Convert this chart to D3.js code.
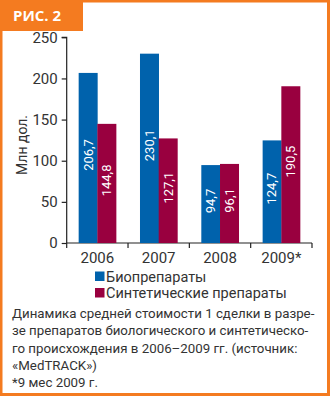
<!DOCTYPE html>
<html><head><meta charset="utf-8">
<script src="https://cdn.jsdelivr.net/npm/d3@7"></script>
<style>body{margin:0;background:#fff}svg{display:block}</style>
</head><body>
<script>
const categories = ["2006","2007","2008","2009*"];
const seriesNames = ["Биопрепараты","Синтетические препараты"];
const bio = [206.7,230.1,94.7,124.7];
const synth = [144.8,127.1,96.1,190.5];
const valueLabels = [["206,7","230,1","94,7","124,7"],["144,8","127,1","96,1","190,5"]];
const yTicks = [0,50,100,150,200,250];
const captionLines = ["Динамика средней стоимости 1 сделки в разре-","зе препаратов биологического и синтетическо-","го происхождения в 2006–2009 гг. (источник:","«MedTRACK»)","*9 мес 2009 г."];

const W=330,H=396;
const orange="#F47B20", blue="#0062AC", red="#99003F", txt="#333";
const font="Roboto, 'Open Sans', sans-serif";
const svg=d3.select("body").append("svg").attr("width",W).attr("height",H);
svg.append("rect").attr("width",W).attr("height",H).attr("fill","#fff");
// border
svg.append("rect").attr("x",1).attr("y",1).attr("width",327.5).attr("height",393.5).attr("fill","none").attr("stroke",orange).attr("stroke-width",3);
svg.append("rect").attr("x",0).attr("y",0).attr("width",83).attr("height",31).attr("fill",orange);
svg.append("text").attr("x",13).attr("y",21).attr("fill","#fff").attr("font-family","'Open Sans', sans-serif").attr("font-weight","bold").attr("font-size",15).text("РИС. 2");

const y=d3.scaleLinear().domain([0,250]).range([243,37.3]);
const x=d3.scaleBand().domain(categories).range([66.7,312]).paddingInner(0).paddingOuter(0);
const xs=d3.scaleBand().domain([0,1]).range([0,37.4]);
const g=svg.append("g");
const yAxis=g.append("g").attr("transform","translate(66.7,0)").call(d3.axisLeft(y).tickValues(yTicks).tickSize(5).tickPadding(4));
const xAxis=g.append("g").attr("transform","translate(0,243)").call(d3.axisBottom(x).tickSize(0).tickPadding(9));
// boundary ticks on x axis
const bounds=[66.7,...categories.slice(1).map(c=>x(c)),312];
g.selectAll(".bt").data(bounds).enter().append("line").attr("x1",d=>d).attr("x2",d=>d).attr("y1",243).attr("y2",248).attr("stroke","#222").attr("stroke-width",1.2);
[yAxis,xAxis].forEach(a=>{a.selectAll("path").attr("stroke","#222").attr("stroke-width",1.2);a.selectAll("line").attr("stroke","#222").attr("stroke-width",1.2);a.selectAll("text").attr("font-family",font).attr("font-size",15).attr("fill",txt);});
xAxis.select("path").attr("d","M66.7,0H312");
yAxis.select("path").attr("d","M-5,37.3H0V243");

const series=[bio,synth], colors=[blue,red];
series.forEach((vals,si)=>{
  const off=(x.bandwidth()-37.4)/2;
  g.selectAll(".b"+si).data(vals).enter().append("rect")
   .attr("x",(d,i)=>x(categories[i])+off+xs(si)).attr("width",xs.bandwidth()+0.3)
   .attr("y",d=>y(d)).attr("height",d=>243-y(d)).attr("fill",colors[si]);
  g.selectAll(".l"+si).data(vals).enter().append("text")
   .attr("transform",(d,i)=>{const cx=x(categories[i])+off+xs(si)+xs.bandwidth()/2;const cy=(y(d)+243)/2-3;return `translate(${cx+4.5},${cy}) rotate(-90)`;})
   .attr("text-anchor","middle").attr("fill","#fff").attr("font-family",font).attr("font-size",13)
   .text((d,i)=>valueLabels[si][i]);
});
svg.append("text").attr("transform","translate(27,145) rotate(-90)").attr("text-anchor","middle").attr("font-family",font).attr("font-size",14).attr("fill",txt).text("Млн дол.");

// legend
seriesNames.forEach((n,i)=>{
  svg.append("rect").attr("x",95).attr("y",271.5+i*16.5).attr("width",9.5).attr("height",9.5).attr("fill",colors[i]);
  svg.append("text").attr("x",106).attr("y",281.5+i*16.5).attr("font-family",font).attr("font-size",14.5).attr("fill",txt).text(n);
});
captionLines.forEach((l,i)=>{
  svg.append("text").attr("x",12).attr("y",318+i*17.3).attr("font-family",font).attr("font-size",13.3).attr("fill",txt).text(l);
});
</script>
</body></html>
